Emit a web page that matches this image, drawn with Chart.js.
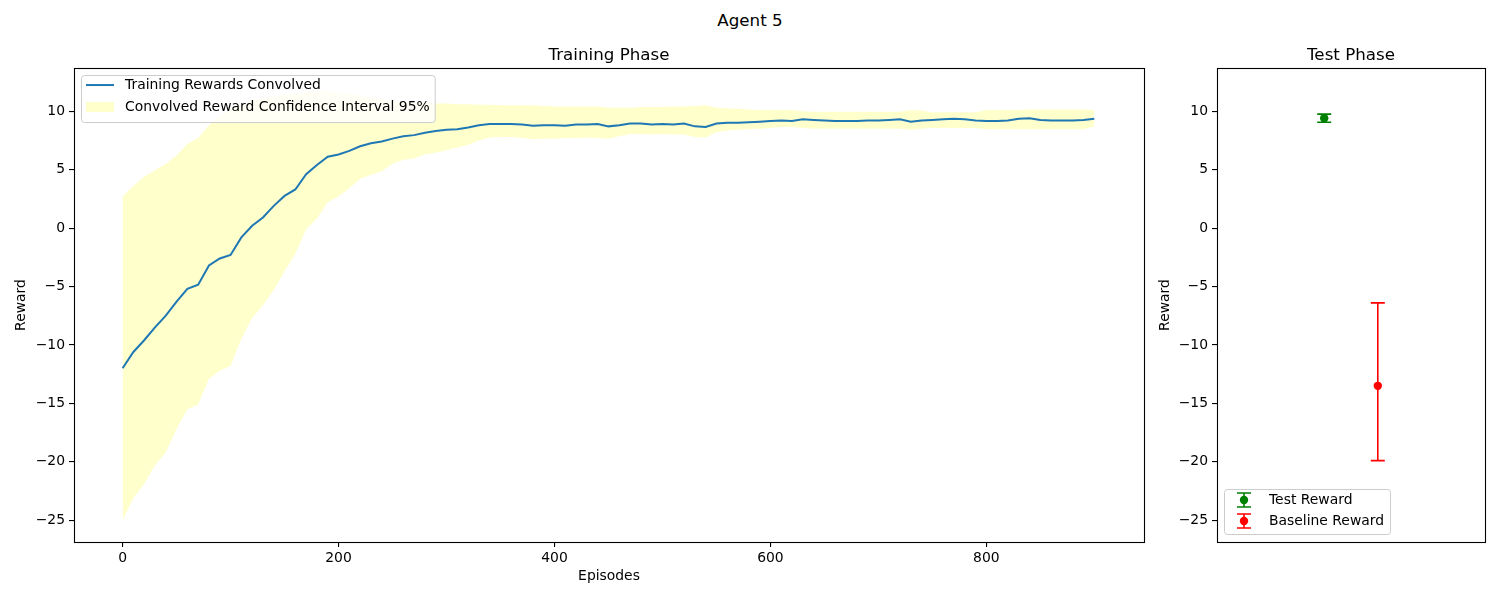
<!DOCTYPE html>
<html>
<head>
<meta charset="utf-8">
<script src="https://cdn.jsdelivr.net/npm/chart.js@4.4.1/dist/chart.umd.min.js"></script>
<style>
  body { margin: 0; background: #fff; width: 1500px; height: 600px; position: relative; overflow: hidden; font-family: "DejaVu Sans", sans-serif; }
  #suptitle { position: absolute; left: 0; top: 10px; width: 1500px; text-align: center; font-size: 16.7px; line-height: 20px; color: #000; }
  #trainChart { position: absolute; left: 0; top: 0; }
  #testChart { position: absolute; left: 1150px; top: 0; }
</style>
</head>
<body>
<div id="suptitle">Agent 5</div>
<canvas id="trainChart" width="1150" height="600"></canvas>
<canvas id="testChart" width="350" height="600"></canvas>
<script>
// DATA - training phase (sampled every 10 episodes)
const episodes = [
  0,10,20,30,40,50,60,70,80,90,
  100,110,120,130,140,150,160,170,180,190,
  200,210,220,230,240,250,260,270,280,290,
  300,310,320,330,340,350,360,370,380,390,
  400,410,420,430,440,450,460,470,480,490,
  500,510,520,530,540,550,560,570,580,590,
  600,610,620,630,640,650,660,670,680,690,
  700,710,720,730,740,750,760,770,780,790,
  800,810,820,830,840,850,860,870,880,890,
  900
];

const meanReward = [
  -12.0,-10.6,-9.6,-8.5,-7.5,-6.3,-5.2,-4.85,-3.2,-2.6,
  -2.3,-0.8,0.2,0.9,1.9,2.75,3.3,4.6,5.4,6.1,
  6.3,6.6,7.0,7.25,7.4,7.65,7.85,7.95,8.15,8.3,
  8.4,8.45,8.6,8.8,8.9,8.9,8.9,8.85,8.75,8.8,
  8.8,8.75,8.85,8.85,8.9,8.7,8.8,8.95,8.95,8.85,
  8.9,8.85,8.95,8.7,8.65,8.95,9.0,9.0,9.05,9.1,
  9.15,9.2,9.15,9.3,9.25,9.2,9.15,9.15,9.15,9.2,
  9.2,9.25,9.3,9.1,9.2,9.25,9.3,9.35,9.3,9.2,
  9.15,9.15,9.2,9.35,9.4,9.25,9.2,9.2,9.2,9.25,
  9.35
];

const upperBand = [
  2.7,3.6,4.4,4.95,5.5,6.2,7.2,7.7,8.8,9.6,
  10.2,10.6,10.9,11.1,11.3,11.4,11.5,11.6,11.7,11.7,
  11.6,11.5,11.3,11.15,11.0,10.85,10.8,10.75,10.7,10.65,
  10.65,10.6,10.6,10.55,10.55,10.5,10.5,10.5,10.5,10.45,
  10.4,10.4,10.4,10.4,10.4,10.3,10.3,10.3,10.35,10.35,
  10.35,10.4,10.4,10.45,10.5,10.3,10.25,10.2,10.15,10.1,
  10.1,10.1,10.1,10.0,9.95,9.95,9.95,9.95,9.95,9.95,
  9.95,9.95,9.95,10.1,10.05,9.9,9.9,9.9,9.9,9.9,
  10.1,10.1,10.1,10.1,10.15,10.15,10.15,10.15,10.15,10.15,
  10.1
];

const lowerBand = [
  -25.0,-23.1,-21.9,-20.3,-19.2,-17.2,-15.5,-15.1,-12.9,-12.2,
  -11.8,-9.5,-7.7,-6.6,-5.3,-3.7,-2.2,-0.1,0.8,2.2,
  2.7,3.4,4.2,4.55,4.85,5.5,5.85,5.95,6.3,6.45,
  6.65,6.9,7.1,7.5,7.75,7.8,7.8,7.7,7.6,7.65,
  7.65,7.7,7.7,7.75,7.7,7.65,7.85,8.05,8.05,8.0,
  8.05,8.0,8.0,7.8,7.75,8.2,8.35,8.4,8.45,8.5,
  8.55,8.65,8.65,8.55,8.5,8.5,8.5,8.5,8.5,8.5,
  8.5,8.5,8.5,8.4,8.5,8.55,8.55,8.55,8.55,8.55,
  8.45,8.45,8.45,8.45,8.45,8.45,8.45,8.45,8.45,8.45,
  8.7
];

const episodeTicks = [0, 200, 400, 600, 800];
const rewardTicks = [-25, -20, -15, -10, -5, 0, 5, 10];

// DATA - test phase
const testNames = ["Test Reward", "Baseline Reward"];
const testX = [0, 1];
const testMean = [9.4, -13.5];
const testLow = [9.05, -19.9];
const testHigh = [9.75, -6.4];

const testColors = ["#008000", "#ff0000"];

// COMMON
Chart.defaults.font.family = '"DejaVu Sans", sans-serif';
Chart.defaults.font.size = 13.9;
Chart.defaults.color = "#000";

const FONT = '13.9px "DejaVu Sans", sans-serif';
const minus = v => String(v).replace("-", "\u2212");

const framePlugin = {
  id: "frame",
  afterDraw(chart) {
    const { ctx, chartArea: a } = chart;
    ctx.save();
    ctx.strokeStyle = "#000";
    ctx.lineWidth = 1.1;
    ctx.strokeRect(Math.round(a.left) + 0.5, Math.round(a.top) + 0.5,
      Math.round(a.right - a.left), Math.round(a.bottom - a.top));
    ctx.restore();
  }
};

function tickAxis(extra) {
  return Object.assign({
    grid: { drawOnChartArea: false, drawTicks: true, tickLength: 5, tickColor: "#000", lineWidth: 1.1 },
    border: { display: false },
    ticks: { padding: 4, callback: v => minus(v), font: { size: 13.9 } }
  }, extra);
}

// LEGEND KIRI
const trainLegend = {
  id: "trainLegend",
  afterDatasetsDraw(chart) {
    const { ctx, chartArea } = chart;
    const ds = chart.data.datasets;
    const items = [ds[2], ds[0]];
    ctx.save();
    ctx.font = FONT;
    const textW = Math.max(...items.map(d => ctx.measureText(d.label).width));
    const x0 = chartArea.left + 7, y0 = chartArea.top + 7;
    const w = 44 + textW + 5, h = 47;
    ctx.beginPath();
    ctx.roundRect(x0 + 0.5, y0 + 0.5, w, h, 3);
    ctx.fillStyle = "rgba(255,255,255,0.8)";
    ctx.fill();
    ctx.strokeStyle = "#cccccc";
    ctx.lineWidth = 1;
    ctx.stroke();

    const r1 = y0 + 10, r2 = y0 + 32;
    ctx.strokeStyle = ds[2].borderColor;
    ctx.lineWidth = 2;
    ctx.beginPath();
    ctx.moveTo(x0 + 5, r1);
    ctx.lineTo(x0 + 33, r1);
    ctx.stroke();

    ctx.fillStyle = ds[0].backgroundColor;
    ctx.fillRect(x0 + 5, r2 - 5, 28, 10);

    ctx.fillStyle = "#000";
    ctx.textBaseline = "middle";
    ctx.fillText(items[0].label, x0 + 44, r1);
    ctx.fillText(items[1].label, x0 + 44, r2);
    ctx.restore();
  }
};

// CHART TRAINING
new Chart(document.getElementById("trainChart"), {
  type: "line",
  data: {
    datasets: [
      {
        label: "Convolved Reward Confidence Interval 95%",
        data: episodes.map((e, i) => ({ x: e, y: upperBand[i] })),
        fill: "+1",
        backgroundColor: "rgba(255,255,0,0.2)",
        borderColor: "rgba(0,0,0,0)",
        borderWidth: 0,
        pointRadius: 0,
        order: 2
      },
      {
        label: "lower",
        data: episodes.map((e, i) => ({ x: e, y: lowerBand[i] })),
        fill: false,
        borderColor: "rgba(0,0,0,0)",
        borderWidth: 0,
        pointRadius: 0,
        order: 3
      },
      {
        label: "Training Rewards Convolved",
        data: episodes.map((e, i) => ({ x: e, y: meanReward[i] })),
        fill: false,
        borderColor: "#1f77b4",
        borderWidth: 2,
        pointRadius: 0,
        tension: 0,
        order: 0
      }
    ]
  },
  options: {
    responsive: false,
    animation: false,
    devicePixelRatio: 1,
    layout: { padding: { left: 0, right: 6, top: 0, bottom: 0 } },
    plugins: {
      legend: { display: false },
      tooltip: { enabled: false },
      title: {
        display: true,
        text: "Training Phase",
        fullSize: false,
        color: "#000",
        font: { size: 16.7, weight: "normal" },
        padding: { top: 46, bottom: 2 }
      }
    },
    scales: {
      x: tickAxis({
        type: "linear",
        min: -45,
        max: 946,
        afterBuildTicks: s => { s.ticks = episodeTicks.map(v => ({ value: v })); },
        afterFit: s => { s.height = 58; },
        ticks: { padding: 3, maxRotation: 0, callback: v => minus(v), font: { size: 13.9 } },
        title: { display: true, text: "Episodes", font: { size: 13.9 }, padding: { top: 4, bottom: 15 } }
      }),
      y: tickAxis({
        min: -26.86,
        max: 13.69,
        afterBuildTicks: s => { s.ticks = rewardTicks.map(v => ({ value: v })); },
        afterFit: s => { s.width = 74; },
        title: { display: true, text: "Reward", font: { size: 13.9 }, padding: { top: 13, bottom: 4 } }
      })
    }
  },
  plugins: [framePlugin, trainLegend]
});

// ERROR BAR
const errorBars = {
  id: "errorBars",
  beforeDatasetsDraw(chart) {
    const { ctx, scales } = chart;
    ctx.save();
    ctx.lineWidth = 1.6;
    testX.forEach((xv, i) => {
      const px = scales.x.getPixelForValue(xv);
      const top = scales.y.getPixelForValue(testHigh[i]);
      const bot = scales.y.getPixelForValue(testLow[i]);
      ctx.strokeStyle = testColors[i];
      ctx.beginPath();
      ctx.moveTo(px, top); ctx.lineTo(px, bot);
      ctx.moveTo(px - 7, top); ctx.lineTo(px + 7, top);
      ctx.moveTo(px - 7, bot); ctx.lineTo(px + 7, bot);
      ctx.stroke();
    });
    ctx.restore();
  }
};

// LEGEND KANAN
const testLegend = {
  id: "testLegend",
  afterDatasetsDraw(chart) {
    const { ctx, chartArea } = chart;
    ctx.save();
    ctx.font = FONT;
    const textW = Math.max(...testNames.map(t => ctx.measureText(t).width));
    const h = 45;
    const x0 = chartArea.left + 7, y0 = chartArea.bottom - 8 - h;
    const w = 45 + textW + 6;
    ctx.beginPath();
    ctx.roundRect(x0 + 0.5, y0 + 0.5, w, h, 3);
    ctx.fillStyle = "rgba(255,255,255,0.8)";
    ctx.fill();
    ctx.strokeStyle = "#cccccc";
    ctx.lineWidth = 1;
    ctx.stroke();

    testNames.forEach((name, i) => {
      const cy = y0 + 11 + i * 21;
      const cx = x0 + 20;
      ctx.strokeStyle = testColors[i];
      ctx.fillStyle = testColors[i];
      ctx.lineWidth = 1.6;
      ctx.beginPath();
      ctx.moveTo(cx, cy - 7); ctx.lineTo(cx, cy + 7);
      ctx.moveTo(cx - 7, cy - 7); ctx.lineTo(cx + 7, cy - 7);
      ctx.moveTo(cx - 7, cy + 7); ctx.lineTo(cx + 7, cy + 7);
      ctx.stroke();
      ctx.beginPath();
      ctx.arc(cx, cy, 4.2, 0, Math.PI * 2);
      ctx.fill();
      ctx.fillStyle = "#000";
      ctx.textBaseline = "middle";
      ctx.fillText(name, x0 + 45, cy);
    });
    ctx.restore();
  }
};

// CHART TEST
new Chart(document.getElementById("testChart"), {
  type: "scatter",
  data: {
    datasets: testNames.map((name, i) => ({
      label: name,
      data: [{ x: testX[i], y: testMean[i] }],
      backgroundColor: testColors[i],
      borderColor: testColors[i],
      pointRadius: 4.2,
      pointBorderWidth: 0
    }))
  },
  options: {
    responsive: false,
    animation: false,
    devicePixelRatio: 1,
    layout: { padding: { left: 0, right: 15, top: 0, bottom: 58 } },
    plugins: {
      legend: { display: false },
      tooltip: { enabled: false },
      title: {
        display: true,
        text: "Test Phase",
        fullSize: false,
        color: "#000",
        font: { size: 16.7, weight: "normal" },
        padding: { top: 46, bottom: 2 }
      }
    },
    scales: {
      x: { type: "linear", min: -2, max: 3, display: false },
      y: tickAxis({
        min: -26.86,
        max: 13.69,
        afterBuildTicks: s => { s.ticks = rewardTicks.map(v => ({ value: v })); },
        afterFit: s => { s.width = 67; },
        title: { display: true, text: "Reward", font: { size: 13.9 }, padding: { top: 7, bottom: 4 } }
      })
    }
  },
  plugins: [framePlugin, errorBars, testLegend]
});
</script>
</body>
</html>
